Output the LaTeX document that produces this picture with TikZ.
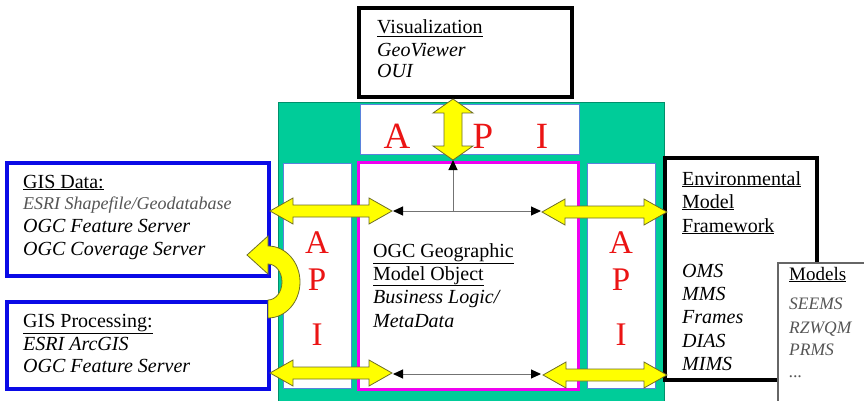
\documentclass[tikz,border=0pt]{standalone}
\usepackage{fontspec}
\setmainfont{Liberation Serif}
\usetikzlibrary{arrows.meta}
\definecolor{bggreen}{RGB}{0,204,153}
\definecolor{apired}{RGB}{235,20,20}
\definecolor{gisblue}{RGB}{10,10,230}
\definecolor{apiedge}{RGB}{90,130,220}
\definecolor{txtgrey}{RGB}{85,85,85}
\definecolor{yfill}{RGB}{255,255,0}
\definecolor{yedge}{RGB}{110,110,40}
\definecolor{mag}{RGB}{240,0,240}
\newcommand\hdarrow[3]{%
 \draw[yarrow] (#1,#3) -- (#1+23,#3-13) -- (#1+23,#3-6) -- (#2-23,#3-6) -- (#2-23,#3-13) -- (#2,#3) -- (#2-23,#3+13) -- (#2-23,#3+6) -- (#1+23,#3+6) -- (#1+23,#3+13) -- cycle;}
\begin{document}
\begin{tikzpicture}[x=1pt,y=-1pt,
  txt/.style={anchor=base west, inner sep=0pt, font=\fontsize{20}{22}\selectfont},
  itx/.style={anchor=base west, inner sep=0pt, font=\fontsize{20}{22}\selectfont\itshape},
  gtx/.style={anchor=base west, inner sep=0pt, text=txtgrey, font=\fontsize{18}{20}\selectfont\itshape},
  mtx/.style={anchor=base west, inner sep=0pt, text=txtgrey, font=\fontsize{17.5}{20}\selectfont\itshape},
  apiS/.style={anchor=base, inner sep=0pt, text=apired, font=\fontsize{33}{33}\selectfont},
  apiT/.style={anchor=base, inner sep=0pt, text=apired, font=\fontsize{37}{37}\selectfont},
  apibox/.style={draw=apiedge, line width=1pt, fill=white},
  yarrow/.style={fill=yfill, draw=yedge, line width=0.8pt, line join=miter},
  inline/.style={draw=black!55, line width=1pt, {Triangle[length=10pt,width=9pt,black]}-{Triangle[length=10pt,width=9pt,black]}},
  upline/.style={draw=black!55, line width=1pt, -{Triangle[length=10pt,width=9pt,black]}}]
\useasboundingbox (0,0) rectangle (864,401);
\fill[white] (0,0) rectangle (864,401);
% green frame
\draw[fill=bggreen, draw=bggreen!70!black, line width=0.8pt] (278,102) rectangle (664,410);
% API boxes
\draw[apibox] (360,105) rectangle (579,154);
\draw[apibox] (283,163) rectangle (351,388);
\draw[apibox] (587,163) rectangle (655,388);
% central model object box
\draw[draw=mag, line width=3pt, fill=white] (358,162) rectangle (578,389);
% API letters
\node[apiT] (ta) at (397,148) {A};
\node[apiT] (tp) at (483,148) {P};
\node[apiT] (ti) at (542,148) {I};
\node[apiS] (la) at (317,253) {A};
\node[apiS] (lp) at (317,290) {P};
\node[apiS] (li) at (317,345) {I};
\node[apiS] (ra) at (621,253) {A};
\node[apiS] (rp) at (621,290) {P};
\node[apiS] (ri) at (621,345) {I};
% central text
\node[txt] (c1) at (373,257) {\underline{OGC Geographic}};
\node[txt] (c2) at (373,280) {\underline{Model Object}};
\node[itx] (c3) at (373,303) {Business Logic/};
\node[itx] (c4) at (373,327) {MetaData};
% inner connectors
\coordinate (hl) at (393,211);
\coordinate (hr) at (541,211);
\coordinate (hm) at (453,211);
\coordinate (vt) at (453,160);
\coordinate (bl) at (393,374);
\coordinate (br) at (541,374);
\draw[upline] (hm) -- (vt);
\draw[inline] (hl) -- (hr);
\draw[inline] (bl) -- (br);
% GIS boxes
\draw[draw=gisblue, line width=4pt, fill=white] (7,163) rectangle (269,276);
\draw[draw=gisblue, line width=4pt, fill=white] (7,302) rectangle (269,389);
\node[txt] (g1) at (23,188) {\underline{GIS Data:}};
\node[gtx] (g2) at (23,209) {ESRI Shapefile/Geodatabase};
\node[itx] (g3) at (23,232) {OGC Feature Server};
\node[itx] (g4) at (23,255) {OGC Coverage Server};
\node[txt] (p1) at (23,327) {\underline{GIS Processing:}};
\node[itx] (p2) at (23,350) {ESRI ArcGIS};
\node[itx] (p3) at (23,372) {OGC Feature Server};
% Visualization box
\draw[draw=black, line width=4pt, fill=white] (359,8) rectangle (572,97);
\node[txt] (v1) at (377,34) {\underline{Visualization}};
\node[itx] (v2) at (377,57) {GeoViewer};
\node[itx] (v3) at (377,78) {OUI};
% Environmental model framework box
\draw[draw=black, line width=4pt, fill=white] (665,158) rectangle (817,380);
\node[txt] (e1) at (682,185) {\underline{Environmental}};
\node[txt] (e2) at (682,208) {\underline{Model}};
\node[txt] (e3) at (682,232) {\underline{Framework}};
\node[itx] (e4) at (682,277) {OMS};
\node[itx] (e5) at (682,300) {MMS};
\node[itx] (e6) at (682,323) {Frames};
\node[itx] (e7) at (682,347) {DIAS};
\node[itx] (e8) at (682,370) {MIMS};
% Models box
\draw[draw=black!60, line width=1.5pt, fill=white] (778,263) rectangle (880,410);
\node[txt, font=\fontsize{19}{22}\selectfont] (m1) at (789,280) {\underline{Models}};
\node[mtx] (m2) at (789,309) {SEEMS};
\node[mtx] (m3) at (789,333) {RZWQM};
\node[mtx] (m4) at (789,355) {PRMS};
\node[mtx] (m5) at (789,377) {...};
% yellow block arrows
\hdarrow{270}{392}{211}
\hdarrow{270}{392}{373}
\hdarrow{542}{667}{212}
\hdarrow{543}{667}{375}
\draw[yarrow] (453,99) -- (473,113) -- (462,113) -- (462,146) -- (473,146) -- (453,160) -- (433,146) -- (444,146) -- (444,113) -- (433,113) -- cycle;
% curved arrow between GIS boxes
\draw[yarrow] (268,318) arc[start angle=90, end angle=-90, x radius=32, y radius=36]
  -- (268,236) -- (247,255) -- (268,274) -- (268,264)
  arc[start angle=-90, end angle=90, x radius=14, y radius=18] -- cycle;
\end{tikzpicture}
\end{document}
